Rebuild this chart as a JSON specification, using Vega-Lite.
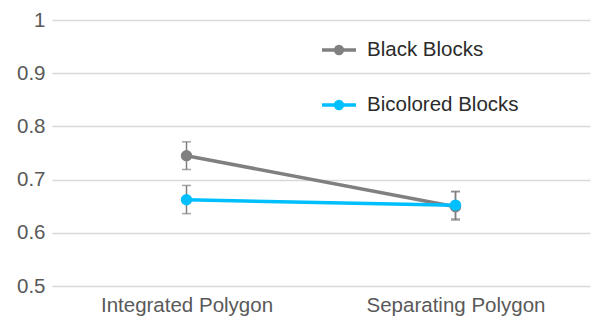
{
  "$schema": "https://vega.github.io/schema/vega-lite/v6.json",
  "width": 592,
  "height": 323,
  "autosize": {"type": "fit", "contains": "padding"},
  "padding": {"left": 16, "top": 10, "right": 2, "bottom": 7},
  "config": {
    "view": {"stroke": null},
    "font": "Liberation Sans"
  },
  "data": {
    "values": [
      {"cond": "Integrated Polygon", "series": "Black Blocks", "mean": 0.745, "lo": 0.719, "hi": 0.771},
      {"cond": "Separating Polygon", "series": "Black Blocks", "mean": 0.649, "lo": 0.624, "hi": 0.677},
      {"cond": "Integrated Polygon", "series": "Bicolored Blocks", "mean": 0.662, "lo": 0.636, "hi": 0.689},
      {"cond": "Separating Polygon", "series": "Bicolored Blocks", "mean": 0.652, "lo": 0.626, "hi": 0.678}
    ]
  },
  "encoding": {
    "x": {
      "field": "cond", "type": "nominal", "sort": null,
      "scale": {"type": "point", "padding": 0.5},
      "axis": {"title": null, "labelAngle": 0, "labelFontSize": 20.5, "labelColor": "#595959", "domain": false, "ticks": false, "grid": false, "labelPadding": 9}
    }
  },
  "layer": [
    {
      "mark": {"type": "errorbar", "ticks": {"size": 9, "color": "#7f7f7f", "thickness": 1.5}, "rule": {"color": "#7f7f7f", "strokeWidth": 1.5}},
      "encoding": {
        "y": {"field": "lo", "type": "quantitative", "scale": {"domain": [0.5, 1]}},
        "y2": {"field": "hi"}
      }
    },
    {
      "mark": {"type": "line", "strokeWidth": 3.5, "point": {"filled": true, "size": 130}},
      "encoding": {
        "y": {
          "field": "mean", "type": "quantitative",
          "scale": {"domain": [0.5, 1]},
          "axis": {"title": null, "values": [0.5, 0.6, 0.7, 0.8, 0.9, 1], "format": ".1~f", "labelFontSize": 20.5, "labelColor": "#595959", "domain": false, "ticks": false, "gridColor": "#d9d9d9", "gridWidth": 1.3, "labelPadding": 7}
        },
        "color": {
          "field": "series", "type": "nominal",
          "scale": {"domain": ["Black Blocks", "Bicolored Blocks"], "range": ["#808080", "#00bfff"]},
          "legend": {
            "title": null, "orient": "none", "legendX": 268, "legendY": 11,
            "labelFontSize": 20.5, "labelColor": "#2b2b2b", "rowPadding": 25,
            "symbolType": "M-1,0H1M-0.2,0A0.2,0.2,0,1,1,0.2,0A0.2,0.2,0,1,1,-0.2,0Z",
            "symbolSize": 1156, "symbolStrokeWidth": 3.5, "labelOffset": 9
          }
        }
      }
    }
  ]
}
